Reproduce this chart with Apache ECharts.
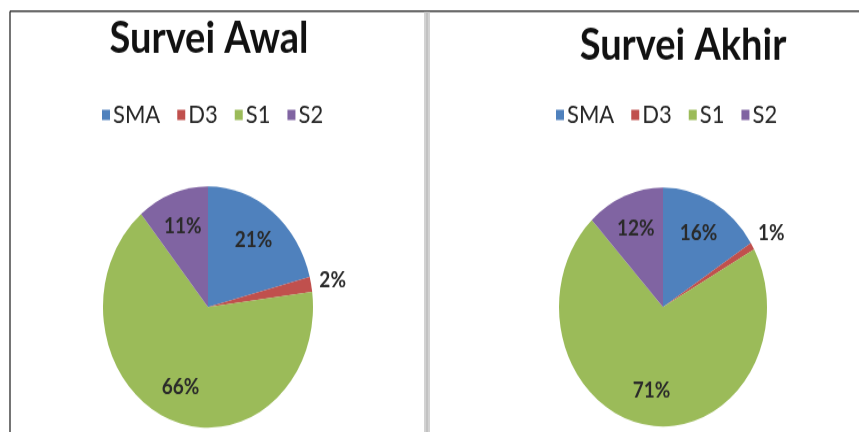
<!DOCTYPE html>
<html>
<head>
<meta charset="utf-8">
<script src="https://cdn.jsdelivr.net/npm/echarts@6/dist/echarts.min.js"></script>
<style>
  html, body { margin: 0; padding: 0; background: #fff; }
  #wrap { width: 859px; height: 432px; overflow: hidden; position: relative; }
  /* the source picture is stretched vertically, so draw flat and stretch */
  #chart { width: 859px; height: 376px; transform: scaleY(1.1489); transform-origin: 0 0; }
</style>
</head>
<body>
<div id="wrap"><div id="chart"></div></div>
<script>
const categories = ['SMA', 'D3', 'S1', 'S2'];
const awalValues = [21, 2, 66, 11];
const akhirValues = [16, 1, 71, 12];
const titles = ['Survei Awal', 'Survei Akhir'];
// Excel 2007 default palette
const colors = ['#4F81BD', '#C0504D', '#9BBB59', '#8064A2'];

const FONT = 'Lato, "Open Sans", sans-serif';
const outsideIdx = 1; // D3 label sits outside the pie

const pies = [
  { values: awalValues, center: [208, 267.2], r: 105 },
  { values: akhirValues, center: [663, 267.2], r: 104 },
];

function mainSeries(p) {
  return {
    type: 'pie',
    center: p.center,
    radius: p.r,
    startAngle: 90,
    silent: true,
    label: { show: false },
    labelLine: { show: false },
    emphasis: { disabled: true },
    itemStyle: { borderWidth: 0 },
    data: categories.map((c, i) => ({ name: c, value: p.values[i], itemStyle: { color: colors[i] } })),
    z: 2,
  };
}

// transparent twin pies only carry the labels at the right radius
function labelSeries(p, outer) {
  return {
    type: 'pie',
    center: p.center,
    radius: outer ? p.r * 2.36 : p.r * 1.36,
    startAngle: 90,
    silent: true,
    emphasis: { disabled: true },
    itemStyle: { color: 'rgba(0,0,0,0)', borderWidth: 0 },
    labelLine: { show: false },
    label: {
      show: true,
      position: 'inside',
      fontFamily: FONT,
      fontSize: 19,
      fontWeight: 'bold',
      color: '#2a2a2a',
      formatter: (d) => d.value + '%',
    },
    data: categories.map((c, i) => ({
      name: c,
      value: p.values[i],
      label: { show: outer ? i === outsideIdx : i !== outsideIdx },
    })),
    z: 3,
  };
}

const legendBase = {
  top: 84,
  icon: 'rect',
  itemWidth: 8,
  itemHeight: 9,
  itemGap: 17,
  selectedMode: false,
  data: categories,
  textStyle: { fontFamily: FONT, fontSize: 22, color: '#262626', padding: [0, 0, 0, -2] },
};

const chart = echarts.init(document.getElementById('chart'));
chart.setOption({
  animation: false,
  backgroundColor: '#fff',
  legend: [
    Object.assign({}, legendBase, { left: 97 }),
    Object.assign({}, legendBase, { left: 551 }),
  ],
  graphic: [
    { type: 'line', shape: { x1: 10, y1: 9.8, x2: 859, y2: 9.8 }, style: { stroke: '#3a3a3a', lineWidth: 1.4 } },
    { type: 'line', shape: { x1: 10, y1: 9.8, x2: 10, y2: 376 }, style: { stroke: '#3a3a3a', lineWidth: 1.4 } },
    { type: 'rect', shape: { x: 424, y: 10.5, width: 6, height: 366 }, style: { fill: '#d2d2d2' } },
    { type: 'rect', shape: { x: 426, y: 10.5, width: 2, height: 366 }, style: { fill: '#c2c2c2' } },
    { type: 'text', x: 209, y: 15, style: { text: titles[0], align: 'center', font: 'bold 38px ' + FONT, fill: '#111' } },
    { type: 'text', x: 683, y: 21, style: { text: titles[1], align: 'center', font: 'bold 38px ' + FONT, fill: '#111' } },
  ],
  series: [
    mainSeries(pies[0]), mainSeries(pies[1]),
    labelSeries(pies[0], false), labelSeries(pies[1], false),
    labelSeries(pies[0], true), labelSeries(pies[1], true),
  ],
});
</script>
</body>
</html>
